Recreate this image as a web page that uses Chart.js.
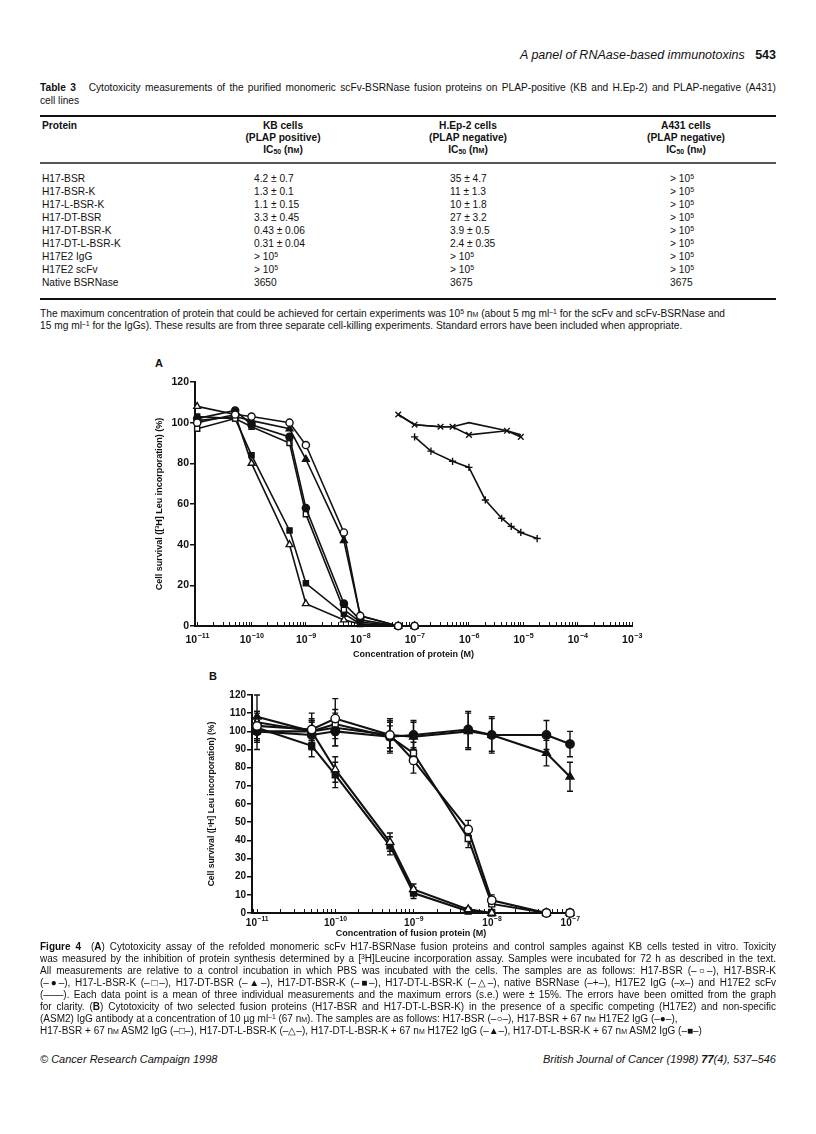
<!DOCTYPE html>
<html>
<head>
<meta charset="utf-8">
<script src="https://cdn.jsdelivr.net/npm/chart.js@4.4.0/dist/chart.umd.min.js"></script>
<style>
  body { margin: 0; background: #fff; }
  #page { position: relative; width: 816px; height: 1134px; overflow: hidden;
    font-family: 'Liberation Sans', Arial, sans-serif; color: #111; }
  .t { position: absolute; white-space: nowrap; line-height: 12px; height: 12px; font-size: 10.2px; }
  .cap { left: 40px; width: 736px; }
  .fig { font-size: 10px; }
  .j { text-align: justify; text-align-last: justify; }
  .sc { font-variant: small-caps; }
  sup { font-size: 68%; line-height: 0; vertical-align: 0.45em; }
  sub { font-size: 68%; line-height: 0; vertical-align: -0.2em; }
  .rule { position: absolute; left: 40px; width: 736px; background: #111; }
  .hd { font-weight: bold; text-align: center; width: 160px; }
  canvas { position: absolute; }
</style>
</head>
<body>
<div id="page">
  <div class="t" style="top:49px; right:40px; font-size:12.5px;"><i>A panel of RNAase-based immunotoxins</i>&nbsp;&nbsp;&nbsp;<b>543</b></div>

  <div class="t cap j" style="top:82px;"><b>Table 3</b>&nbsp;&nbsp; Cytotoxicity measurements of the purified monomeric scFv-BSRNase fusion proteins on PLAP-positive (KB and H.Ep-2) and PLAP-negative (A431)</div>
  <div class="t cap" style="top:95px;">cell lines</div>

  <div class="rule" style="top:115px; height:2px;"></div>
  <div class="rule" style="top:162px; height:1.5px; background:#555;"></div>
  <div class="rule" style="top:298px; height:2px;"></div>
  <div id="table"></div>

  <div class="t cap" style="top:308px;">The maximum concentration of protein that could be achieved for certain experiments was 10<sup>5</sup> n<span class="sc">m</span> (about 5 mg ml<sup>–1</sup> for the scFv and scFv-BSRNase and</div>
  <div class="t cap" style="top:320px;">15 mg ml<sup>–1</sup> for the IgGs). These results are from three separate cell-killing experiments. Standard errors have been included when appropriate.</div>

  <div class="t" style="top:357px; left:155px; font-size:11px; font-weight:bold;">A</div>
  <canvas id="chartA" width="530" height="310" style="left:130px; top:360px;"></canvas>

  <div class="t" style="top:670px; left:209px; font-size:11px; font-weight:bold;">B</div>
  <canvas id="chartB" width="395" height="265" style="left:195px; top:682px;"></canvas>

  <div class="t cap fig j" style="top:941px;"><b>Figure 4</b>&nbsp;&nbsp;(<b>A</b>) Cytotoxicity assay of the refolded monomeric scFv H17-BSRNase fusion proteins and control samples against KB cells tested in vitro. Toxicity</div>
  <div class="t cap fig j" style="top:953px;">was measured by the inhibition of protein synthesis determined by a [<sup>3</sup>H]Leucine incorporation assay. Samples were incubated for 72 h as described in the text.</div>
  <div class="t cap fig j" style="top:965px;">All measurements are relative to a control incubation in which PBS was incubated with the cells. The samples are as follows: H17-BSR (–○–), H17-BSR-K</div>
  <div class="t cap fig j" style="top:977px;">(–●–), H17-L-BSR-K (–□–), H17-DT-BSR (–▲–), H17-DT-BSR-K (–■–), H17-DT-L-BSR-K (–△–), native BSRNase (–+–), H17E2 IgG (–x–) and H17E2 scFv</div>
  <div class="t cap fig j" style="top:989px;">(——). Each data point is a mean of three individual measurements and the maximum errors (s.e.) were ± 15%. The errors have been omitted from the graph</div>
  <div class="t cap fig j" style="top:1001px;">for clarity. (<b>B</b>) Cytotoxicity of two selected fusion proteins (H17-BSR and H17-DT-L-BSR-K) in the presence of a specific competing (H17E2) and non-specific</div>
  <div class="t cap fig" style="top:1013px;">(ASM2) IgG antibody at a concentration of 10 µg ml<sup>–1</sup> (67 n<span class="sc">m</span>). The samples are as follows: H17-BSR (–○–), H17-BSR + 67 n<span class="sc">m</span> H17E2 IgG (–●–),</div>
  <div class="t cap fig" style="top:1025px;">H17-BSR + 67 n<span class="sc">m</span> ASM2 IgG (–□–), H17-DT-L-BSR-K (–△–), H17-DT-L-BSR-K + 67 n<span class="sc">m</span> H17E2 IgG (–▲–), H17-DT-L-BSR-K + 67 n<span class="sc">m</span> ASM2 IgG (–■–)</div>

  <div class="t" style="top:1053px; left:40px; font-size:11px;"><i>© Cancer Research Campaign 1998</i></div>
  <div class="t" style="top:1053px; right:40px; font-size:11px;"><i>British Journal of Cancer (1998) <b>77</b>(4), 537–546</i></div>
</div>

<script>
// ---- Table 3 ----
const tableHead = [
  ['KB cells', '(PLAP positive)'],
  ['H.Ep-2 cells', '(PLAP negative)'],
  ['A431 cells', '(PLAP negative)']
]
const tableRows = [
  ['H17-BSR', '4.2 ± 0.7', '35 ± 4.7', '> 10<sup>5</sup>'],
  ['H17-BSR-K', '1.3 ± 0.1', '11 ± 1.3', '> 10<sup>5</sup>'],
  ['H17-L-BSR-K', '1.1 ± 0.15', '10 ± 1.8', '> 10<sup>5</sup>'],
  ['H17-DT-BSR', '3.3 ± 0.45', '27 ± 3.2', '> 10<sup>5</sup>'],
  ['H17-DT-BSR-K', '0.43 ± 0.06', '3.9 ± 0.5', '> 10<sup>5</sup>'],
  ['H17-DT-L-BSR-K', '0.31 ± 0.04', '2.4 ± 0.35', '> 10<sup>5</sup>'],
  ['H17E2 IgG', '> 10<sup>5</sup>', '> 10<sup>5</sup>', '> 10<sup>5</sup>'],
  ['H17E2 scFv', '> 10<sup>5</sup>', '> 10<sup>5</sup>', '> 10<sup>5</sup>'],
  ['Native BSRNase', '3650', '3675', '3675']
]
const headCenters = [283, 468, 686]
const valueLefts = [42, 254, 450, 670]

function buildTable() {
  let html = `<div class="t" style="top:120px; left:42px; font-weight:bold;">Protein</div>`
  tableHead.forEach((h, i) => {
    const left = headCenters[i] - 80
    html += `<div class="t hd" style="top:120px; left:${left}px;">${h[0]}</div>`
    html += `<div class="t hd" style="top:132px; left:${left}px;">${h[1]}</div>`
    html += `<div class="t hd" style="top:144px; left:${left}px;">IC<sub>50</sub> (n<span class="sc">m</span>)</div>`
  })
  tableRows.forEach((row, r) => {
    row.forEach((cell, c) => {
      html += `<div class="t" style="top:${173 + r * 13}px; left:${valueLefts[c]}px;">${cell}</div>`
    })
  })
  document.getElementById('table').innerHTML = html
}
buildTable()

// ---- Figure 4A ----
const concA = [1e-11, 5e-11, 1e-10, 5e-10, 1e-9, 5e-9, 1e-8, 5e-8, 1e-7]
const h17Bsr = [100, 104, 103, 100, 89, 46, 5, 0, 0]
const h17BsrK = [102, 106, 99, 93, 58, 11, 3, 0, 0]
const h17LBsrK = [97, 102, 98, 90, 55, 8, 2, 0, 0]
const h17DtBsr = [101, 103, 101, 97, 82, 42, 5, 0, 0]
const h17DtBsrK = [103, 102, 84, 47, 21, 6, 1, 0, 0]
const h17DtLBsrK = [108, 104, 80, 40, 11, 3, 1, 0, 0]
const concIgG = [5e-8, 1e-7, 3e-7, 5e-7, 1e-6, 5e-6, 9e-6]
const h17e2IgG = [104, 99, 98, 98, 94, 96, 93]
const h17e2ScFv = [104, 99, 98, 98, 100, 96, 94]
const concNative = [1e-7, 2e-7, 5e-7, 1e-6, 2e-6, 4e-6, 6e-6, 9e-6, 1.8e-5]
const nativeBsr = [93, 86, 81, 78, 62, 53, 49, 46, 43]
const yTicksA = [0, 20, 40, 60, 80, 100, 120]

// ---- Figure 4B ----
const concB = [1e-11, 5e-11, 1e-10, 5e-10, 1e-9, 5e-9, 1e-8, 5e-8, 1e-7]
const bsr = [103, 101, 107, 98, 84, 46, 7, 0, 0]
const bsrIgG = [100, 98, 100, 97, 98, 101, 98, 98, 93]
const bsrAsm2 = [100, 100, 104, 97, 88, 41, 5, 0, 0]
const dtl = [105, 100, 79, 39, 13, 2, 0, 0, 0]
const dtlIgG = [108, 100, 102, 98, 97, 100, 98, 88, 75]
const dtlAsm2 = [102, 92, 76, 37, 11, 1, 0, 0, 0]
const bsrErr = [8, 6, 11, 7, 7, 5, 3, 0, 0]
const bsrIgGErr = [10, 8, 8, 9, 8, 10, 10, 8, 7]
const bsrAsm2Err = [6, 5, 6, 6, 6, 5, 3, 0, 0]
const dtlErr = [6, 6, 7, 5, 3, 1, 0, 0, 0]
const dtlIgGErr = [12, 10, 10, 9, 8, 10, 9, 7, 8]
const dtlAsm2Err = [6, 6, 7, 5, 3, 1, 0, 0, 0]
const yTicksB = [0, 10, 20, 30, 40, 50, 60, 70, 80, 90, 100, 110, 120]

const INK = '#111'
const FONT = "'Liberation Sans', Arial, sans-serif"
Chart.defaults.font.family = FONT
Chart.defaults.color = INK
Chart.defaults.animation = false

function isPower(v) {
  const l = Math.log10(v)
  return Math.abs(l - Math.round(l)) < 1e-6
}

function logTicks(min, max) {
  const ticks = []
  for (let e = Math.floor(Math.log10(min)); e <= Math.ceil(Math.log10(max)); e++) {
    for (let m = 1; m < 10; m++) {
      const v = m * Math.pow(10, e)
      if (v >= min * 0.999 && v <= max * 1.001) ticks.push({ value: v, major: m === 1 })
    }
  }
  return ticks
}

// draws "10" with a raised exponent under each decade tick of the x scale
const powerLabels = {
  id: 'powerLabels',
  afterDraw(chart, args, opts) {
    const { ctx, scales: { x } } = chart
    ctx.save()
    ctx.fillStyle = INK
    ctx.textBaseline = 'middle'
    x.ticks.forEach(t => {
      if (!isPower(t.value)) return
      const px = x.getPixelForValue(t.value)
      const exp = String(Math.round(Math.log10(t.value))).replace('-', '−')
      ctx.font = `bold ${opts.size}px ${FONT}`
      const w1 = ctx.measureText('10').width
      ctx.font = `bold ${opts.size * 0.68}px ${FONT}`
      const w2 = ctx.measureText(exp).width
      const left = px - (w1 + w2) / 2
      const y = x.bottom - opts.fromBottom
      ctx.font = `bold ${opts.size}px ${FONT}`
      ctx.textAlign = 'left'
      ctx.fillText('10', left, y)
      ctx.font = `bold ${opts.size * 0.68}px ${FONT}`
      ctx.fillText(exp, left + w1 + 0.5, y - opts.size * 0.38)
    })
    ctx.restore()
  }
}

function series(label, xs, ys, style, filled, width, radius, errs) {
  return {
    label,
    data: xs.map((x, i) => ({ x, y: ys[i] })),
    errors: errs,
    borderColor: INK,
    borderWidth: width,
    pointStyle: style || 'circle',
    pointRadius: style === false ? 0 : radius,
    pointBackgroundColor: filled ? INK : '#fff',
    pointBorderColor: INK,
    pointBorderWidth: 1.4,
    tension: 0,
    clip: false
  }
}

const errorBars = {
  id: 'errorBars',
  beforeDatasetsDraw(chart) {
    const { ctx, scales: { x, y } } = chart
    ctx.save()
    ctx.strokeStyle = INK
    ctx.lineWidth = 1.4
    chart.data.datasets.forEach(ds => {
      if (!ds.errors) return
      ds.data.forEach((pt, i) => {
        const e = ds.errors[i]
        if (!e) return
        const px = x.getPixelForValue(pt.x)
        const top = y.getPixelForValue(pt.y + e)
        const bot = y.getPixelForValue(pt.y - e)
        ctx.beginPath()
        ctx.moveTo(px, top); ctx.lineTo(px, bot)
        ctx.moveTo(px - 3, top); ctx.lineTo(px + 3, top)
        ctx.moveTo(px - 3, bot); ctx.lineTo(px + 3, bot)
        ctx.stroke()
      })
    })
    ctx.restore()
  }
}

function axes(o) {
  return {
    x: {
      type: 'logarithmic',
      min: o.xMin,
      max: o.xMax,
      afterBuildTicks: axis => { axis.ticks = logTicks(o.xMin, o.xMax) },
      afterFit: axis => { axis.height = o.xHeight },
      border: { display: true, color: INK, width: 2 },
      grid: { drawOnChartArea: false, drawTicks: true, tickLength: -4, color: INK, lineWidth: 1 },
      ticks: { display: false, autoSkip: false },
      title: {
        display: true, text: o.xTitle,
        font: { size: 9, weight: 'bold' },
        padding: { top: 0, bottom: o.xTitlePad }
      }
    },
    y: {
      type: 'linear',
      min: 0,
      max: 120,
      afterBuildTicks: axis => { axis.ticks = o.yTicks.map(v => ({ value: v })) },
      afterFit: axis => { axis.width = o.yWidth },
      border: { display: true, color: INK, width: 2 },
      grid: { drawOnChartArea: false, drawTicks: true, tickLength: 5, color: INK, lineWidth: 1.5 },
      ticks: { padding: 1, font: { size: o.tickSize, weight: 'bold' } },
      title: {
        display: true, text: 'Cell survival ([³H] Leu incorporation) (%)',
        font: { size: o.yTitleSize, weight: 'bold' },
        padding: { top: o.yTitlePad, bottom: 0 }
      }
    }
  }
}

new Chart(document.getElementById('chartA'), {
  type: 'line',
  data: {
    datasets: [
      series('H17-BSR', concA, h17Bsr, 'circle', false, 1.6, 3.6),
      series('H17-BSR-K', concA, h17BsrK, 'circle', true, 1.6, 3.6),
      series('H17-L-BSR-K', concA, h17LBsrK, 'rect', false, 1.6, 3.6),
      series('H17-DT-BSR', concA, h17DtBsr, 'triangle', true, 1.6, 3.9),
      series('H17-DT-BSR-K', concA, h17DtBsrK, 'rect', true, 1.6, 3.6),
      series('H17-DT-L-BSR-K', concA, h17DtLBsrK, 'triangle', false, 1.6, 3.9),
      series('native BSRNase', concNative, nativeBsr, 'cross', false, 1.6, 3.6),
      series('H17E2 IgG', concIgG, h17e2IgG, 'crossRot', false, 1.6, 4),
      series('H17E2 scFv', concIgG, h17e2ScFv, false, false, 1.6, 0)
    ]
  },
  options: {
    responsive: false,
    devicePixelRatio: 1,
    layout: { padding: { top: 22, right: 28, left: 0, bottom: 0 } },
    scales: axes({
      xMin: Math.pow(10, -11.04), xMax: 1e-3, xHeight: 44, xTitlePad: 9.6,
      xTitle: 'Concentration of protein (M)', yTicks: yTicksA, yWidth: 65,
      yTitlePad: 24.6, yTitleSize: 9, tickSize: 10.5
    }),
    plugins: {
      legend: { display: false }, tooltip: { enabled: false },
      powerLabels: { size: 10.5, fromBottom: 30 }
    }
  },
  plugins: [powerLabels]
})

new Chart(document.getElementById('chartB'), {
  type: 'line',
  data: {
    datasets: [
      series('H17-BSR', concB, bsr, 'circle', false, 2.1, 4.2, bsrErr),
      series('H17-BSR + 67 nM H17E2 IgG', concB, bsrIgG, 'circle', true, 2.1, 4.2, bsrIgGErr),
      series('H17-BSR + 67 nM ASM2 IgG', concB, bsrAsm2, 'rect', false, 2.1, 4.2, bsrAsm2Err),
      series('H17-DT-L-BSR-K', concB, dtl, 'triangle', false, 2.1, 4.5, dtlErr),
      series('H17-DT-L-BSR-K + 67 nM H17E2 IgG', concB, dtlIgG, 'triangle', true, 2.1, 4.5, dtlIgGErr),
      series('H17-DT-L-BSR-K + 67 nM ASM2 IgG', concB, dtlAsm2, 'rect', true, 2.1, 4.2, dtlAsm2Err)
    ]
  },
  options: {
    responsive: false,
    devicePixelRatio: 1,
    layout: { padding: { top: 13, right: 20, left: 0, bottom: 0 } },
    scales: axes({
      xMin: Math.pow(10, -11.064), xMax: 1e-7, xHeight: 34, xTitlePad: 7.8,
      xTitle: 'Concentration of fusion protein (M)', yTicks: yTicksB, yWidth: 57,
      yTitlePad: 11.6, yTitleSize: 8.6, tickSize: 10
    }),
    plugins: {
      legend: { display: false }, tooltip: { enabled: false },
      powerLabels: { size: 10, fromBottom: 24 }
    }
  },
  plugins: [errorBars, powerLabels]
})
</script>
</body>
</html>
